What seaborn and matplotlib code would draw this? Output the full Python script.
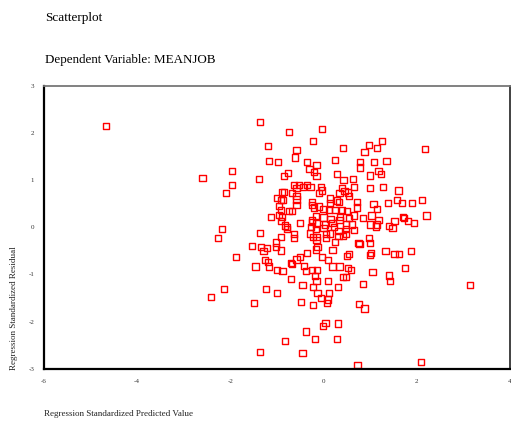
import numpy as np
import pandas as pd
import matplotlib
matplotlib.use("Agg")
import matplotlib.pyplot as plt
import seaborn as sns

# Regression diagnostics: standardized predicted value vs standardized residual
predicted = [
    -1.36, -0.75, -1.19, -0.58, -0.62, -1.17, -0.97, -0.35, -0.23, -0.15,
    -0.30, -1.96, -2.60, -1.39, -0.77, -0.85, -0.21, -0.15, -1.96, -2.10,
    -0.64, -0.53, -0.44, -0.58, -0.35, -0.28, -0.10, -0.85, -0.90, -0.67,
    -0.58, -1.00, -0.91, -0.87, -0.58, -0.58, -0.95, -0.91, -0.95, -0.25,
    -0.25, -0.20, -0.75, -0.67, -1.12, -0.89, -0.91, -0.50, -0.83, -0.79,
    -0.78, -2.18, -1.36, -2.27, -0.63, -0.64, -0.91, -0.24, -0.29, -0.23,
    -0.03, 0.41, 0.98, 1.25, 1.15, 0.88, 2.18, 0.24, 0.78, 0.78,
    1.08, 1.35, 0.29, 0.43, 0.63, 1.18, 1.23, 1.00, -0.05, -0.03,
    0.39, 0.45, 0.52, 0.34, 0.55, 0.66, 1.00, 1.28, 1.61, 0.13,
    0.13, 0.33, 0.29, 0.71, 0.71, 1.07, 1.15, 1.38, 1.57, 1.69,
    1.89, 2.11, 2.21, -0.09, 0.00, 0.12, 0.24, 0.39, 0.51, 0.66,
    0.85, 1.03, 1.18, 0.55, 0.35, 0.34, 0.15, 0.19, 0.00, -0.16,
    -0.25, -0.15, 1.52, 1.70, 1.73, 1.82, 1.94, 1.41, 1.48, 1.00,
    1.12, 1.15, 0.48, 0.61, 0.65, 0.48, 0.32, 0.23, 0.03, 0.00,
    -0.17, -0.27, 0.05, 0.14, 0.32, 0.42, 0.48, 0.98, -0.15,
    -1.54, -1.34, -1.22, -1.29, -1.02, -1.02, -0.92, -1.88, -1.26, -1.19,
    -1.17, -1.46, -1.00, -0.88, -0.70, -0.68, -0.58, -0.50, -0.35, -0.16,
    -0.13, -0.15, -0.42, -0.38, -0.25, -0.14, -0.18, -0.15, -0.70, -0.45,
    -0.23, -0.13, -2.13, -2.42, -1.24, -1.00, -1.49, -0.48, -0.23, -0.38,
    -0.82, -0.18, -1.36, -0.45,
    0.24, 0.75, 0.77, 1.00, 0.19, 0.50, 0.55, 1.02, 1.00, 1.33,
    1.52, 1.62, 1.87, -0.03, 0.10, 0.19, 0.34, 0.53, 0.59, 1.05,
    1.74, 0.41, 0.48, 0.10, 1.40, 1.42, 0.85, 0.31, 0.12, -0.05,
    0.10, 0.07, 0.76, 0.88, 0.04, -0.01, 0.31, 0.29, 0.73, 2.09,
    3.15, -4.67, 0.05,
]
residual = [
    2.24, 2.02, 1.73, 1.64, 1.48, 1.41, 1.38, 1.38, 1.83, 1.32,
    1.24, 1.19, 1.05, 1.02, 1.15, 1.09, 1.17, 1.09, 0.90, 0.73,
    0.90, 0.90, 0.85, 0.83, 0.90, 0.85, 0.72, 0.75, 0.74, 0.73,
    0.66, 0.63, 0.58, 0.58, 0.59, 0.47, 0.46, 0.37, 0.26, 0.54,
    0.47, 0.42, 0.35, 0.35, 0.22, 0.22, 0.13, 0.10, 0.04, 0.00,
    -0.04, -0.04, -0.12, -0.22, -0.14, -0.22, -0.21, 0.12, -0.13, -0.20,
    2.08, 1.69, 1.74, 1.83, 1.69, 1.59, 1.66, 1.43, 1.38, 1.27,
    1.39, 1.41, 1.13, 1.00, 1.02, 1.20, 1.13, 1.10, 0.86, 0.78,
    0.84, 0.77, 0.74, 0.73, 0.67, 0.86, 0.83, 0.86, 0.78, 0.61,
    0.52, 0.54, 0.57, 0.54, 0.42, 0.49, 0.39, 0.51, 0.58, 0.51,
    0.51, 0.58, 0.25, 0.44, 0.39, 0.37, 0.37, 0.37, 0.35, 0.25,
    0.20, 0.25, 0.15, 0.20, 0.22, 0.15, 0.17, 0.10, 0.21, 0.24,
    0.15, 0.08, 0.13, 0.22, 0.20, 0.13, 0.10, 0.03, -0.02, 0.06,
    0.02, 0.06, 0.06, 0.06, -0.06, -0.04, -0.08, 0.01, 0.06, -0.02,
    -0.04, 0.01, -0.14, -0.13, -0.18, -0.18, -0.14, -0.22, -0.20,
    -0.39, -0.41, -0.43, -0.51, -0.32, -0.42, -0.49, -0.63, -0.70, -0.74,
    -0.83, -0.83, -0.90, -0.92, -0.75, -0.78, -0.68, -0.63, -0.55, -0.47,
    -0.42, -0.27, -0.82, -0.92, -0.90, -0.90, -1.03, -1.14, -1.09, -1.22,
    -1.26, -1.40, -1.31, -1.48, -1.31, -1.39, -1.60, -1.58, -1.65, -2.21,
    -2.41, -2.36, -2.65, -2.67,
    -0.31, -0.33, -0.35, -0.33, -0.48, -0.60, -0.57, -0.54, -0.59, -0.51,
    -0.56, -0.56, -0.51, -0.63, -0.70, -0.83, -0.83, -0.87, -0.90, -0.94,
    -0.87, -1.05, -1.05, -1.14, -1.02, -1.14, -1.20, -1.27, -1.39, -1.50,
    -1.53, -1.60, -1.63, -1.72, -2.03, -2.09, -2.04, -2.36, -2.92, -2.85,
    -1.22, 2.15, -0.22,
]

x_ticks = [-6, -4, -2, 0, 2, 4]
y_ticks = [-3, -2, -1, 0, 1, 2, 3]

df = pd.DataFrame({"predicted": predicted, "residual": residual})

sns.set_style("white")
plt.rcParams["font.family"] = ["Liberation Serif", "DejaVu Serif"]

fig = plt.figure(figsize=(5.11, 4.21), dpi=100)
ax = fig.add_axes([0.086, 0.124, 0.912, 0.672])

sns.scatterplot(data=df, x="predicted", y="residual", ax=ax,
                marker="s", s=20, color="red", linewidth=1.0, legend=False)
for coll in ax.collections:
    coll.set_facecolor("none")
    coll.set_edgecolor("#ff0000")
    coll.set_linewidth(1.0)

ax.set_xlim(-6, 4)
ax.set_ylim(-3, 3)
ax.set_xticks(x_ticks)
ax.set_yticks(y_ticks)
ax.set_xticklabels([str(t) for t in x_ticks])
ax.set_yticklabels([str(t) for t in y_ticks])
ax.tick_params(axis="both", direction="out", length=3, width=2.2,
               color="black", labelsize=5, labelcolor="#333333", pad=4)
ax.set_xlabel("")
ax.set_ylabel("")

ax.spines["left"].set_color("black")
ax.spines["left"].set_linewidth(1.6)
ax.spines["bottom"].set_color("black")
ax.spines["bottom"].set_linewidth(1.6)
ax.spines["top"].set_color("#777777")
ax.spines["top"].set_linewidth(1.3)
ax.spines["right"].set_color("#333333")
ax.spines["right"].set_linewidth(1.3)
for sp in ax.spines.values():
    sp.set_visible(True)

fig.text(45 / 511, 1 - 18 / 421, "Scatterplot", fontsize=9.5,
         ha="left", va="center", color="black")
fig.text(45 / 511, 1 - 60 / 421, "Dependent Variable: MEANJOB", fontsize=9.4,
         ha="left", va="center", color="black")
fig.text(44 / 511, 1 - 414 / 421, "Regression Standardized Predicted Value",
         fontsize=6.5, ha="left", va="center", color="#222222")
fig.text(14 / 511, 1 - 370 / 421, "Regression Standardized Residual",
         fontsize=6.5, ha="center", va="bottom", rotation=90, color="#222222")

fig.savefig("out.png", dpi=100)
